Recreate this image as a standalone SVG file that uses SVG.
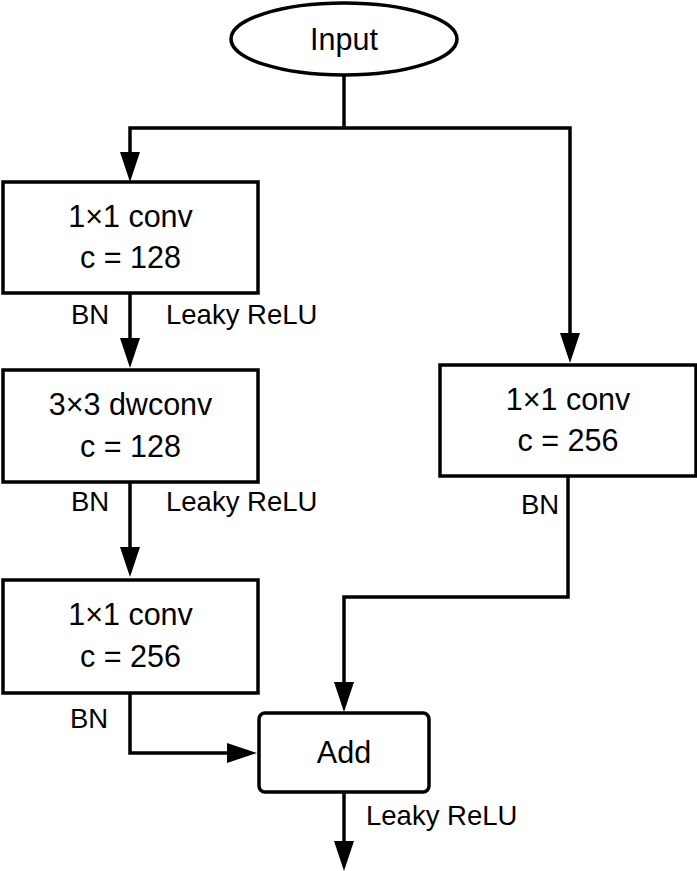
<svg xmlns="http://www.w3.org/2000/svg" width="697" height="871" viewBox="0 0 697 871">
<style>
.box{fill:#fff;stroke:#000;stroke-width:3.5}
.t{font-family:"Liberation Sans",Arial,sans-serif;font-size:30.5px;fill:#000;text-anchor:middle}
.lbl{font-family:"Liberation Sans",Arial,sans-serif;font-size:27.5px;fill:#000}
.c{fill:none;stroke:#000;stroke-width:3.5;stroke-linejoin:miter}
</style>
<defs>
<marker id="ah" viewBox="0 0 30 20" refX="15" refY="10" markerWidth="30" markerHeight="20" markerUnits="userSpaceOnUse" orient="auto">
<path d="M0 0 L30 10 L0 20 Z" fill="#000"/>
</marker>
</defs>
<rect width="697" height="871" fill="#fff"/>
<g id="connectors">
<path class="c" d="M344 76 V128"/>
<path class="c" d="M344 128 H130 V167" marker-end="url(#ah)"/>
<path class="c" d="M344 128 H570 V348" marker-end="url(#ah)"/>
<path class="c" d="M130 293 V353" marker-end="url(#ah)"/>
<path class="c" d="M130 482 V562" marker-end="url(#ah)"/>
<path class="c" d="M130 693 V753 H242" marker-end="url(#ah)"/>
<path class="c" d="M568 476 V597 H344 V697" marker-end="url(#ah)"/>
<path class="c" d="M344 792 V856" marker-end="url(#ah)"/>
</g>
<g id="input">
<ellipse cx="344" cy="39" rx="113" ry="36" fill="#fff" stroke="#000" stroke-width="3.5"/>
<text class="t" x="344" y="50">Input</text>
</g>
<g id="conv1">
<rect class="box" x="3" y="182" width="255" height="111"/>
<text class="t" x="130.5" y="227">1×1 conv</text>
<text class="t" x="130.5" y="268">c = 128</text>
</g>
<g id="dwconv">
<rect class="box" x="3" y="370" width="255" height="112"/>
<text class="t" x="130.5" y="415">3×3 dwconv</text>
<text class="t" x="130.5" y="457">c = 128</text>
</g>
<g id="conv2">
<rect class="box" x="3" y="580" width="255" height="113"/>
<text class="t" x="130.5" y="625">1×1 conv</text>
<text class="t" x="130.5" y="667">c = 256</text>
</g>
<g id="conv_short">
<rect class="box" x="440" y="365" width="256" height="111"/>
<text class="t" x="568" y="410">1×1 conv</text>
<text class="t" x="568" y="451">c = 256</text>
</g>
<g id="add">
<rect class="box" x="259" y="713" width="170" height="79" rx="6"/>
<text class="t" x="344" y="763">Add</text>
</g>
<g id="labels">
<text class="lbl" x="71" y="324">BN</text>
<text class="lbl" x="166" y="324">Leaky ReLU</text>
<text class="lbl" x="71" y="511">BN</text>
<text class="lbl" x="166" y="511">Leaky ReLU</text>
<text class="lbl" x="521" y="514">BN</text>
<text class="lbl" x="70" y="728">BN</text>
<text class="lbl" x="366" y="825">Leaky ReLU</text>
</g>
</svg>
